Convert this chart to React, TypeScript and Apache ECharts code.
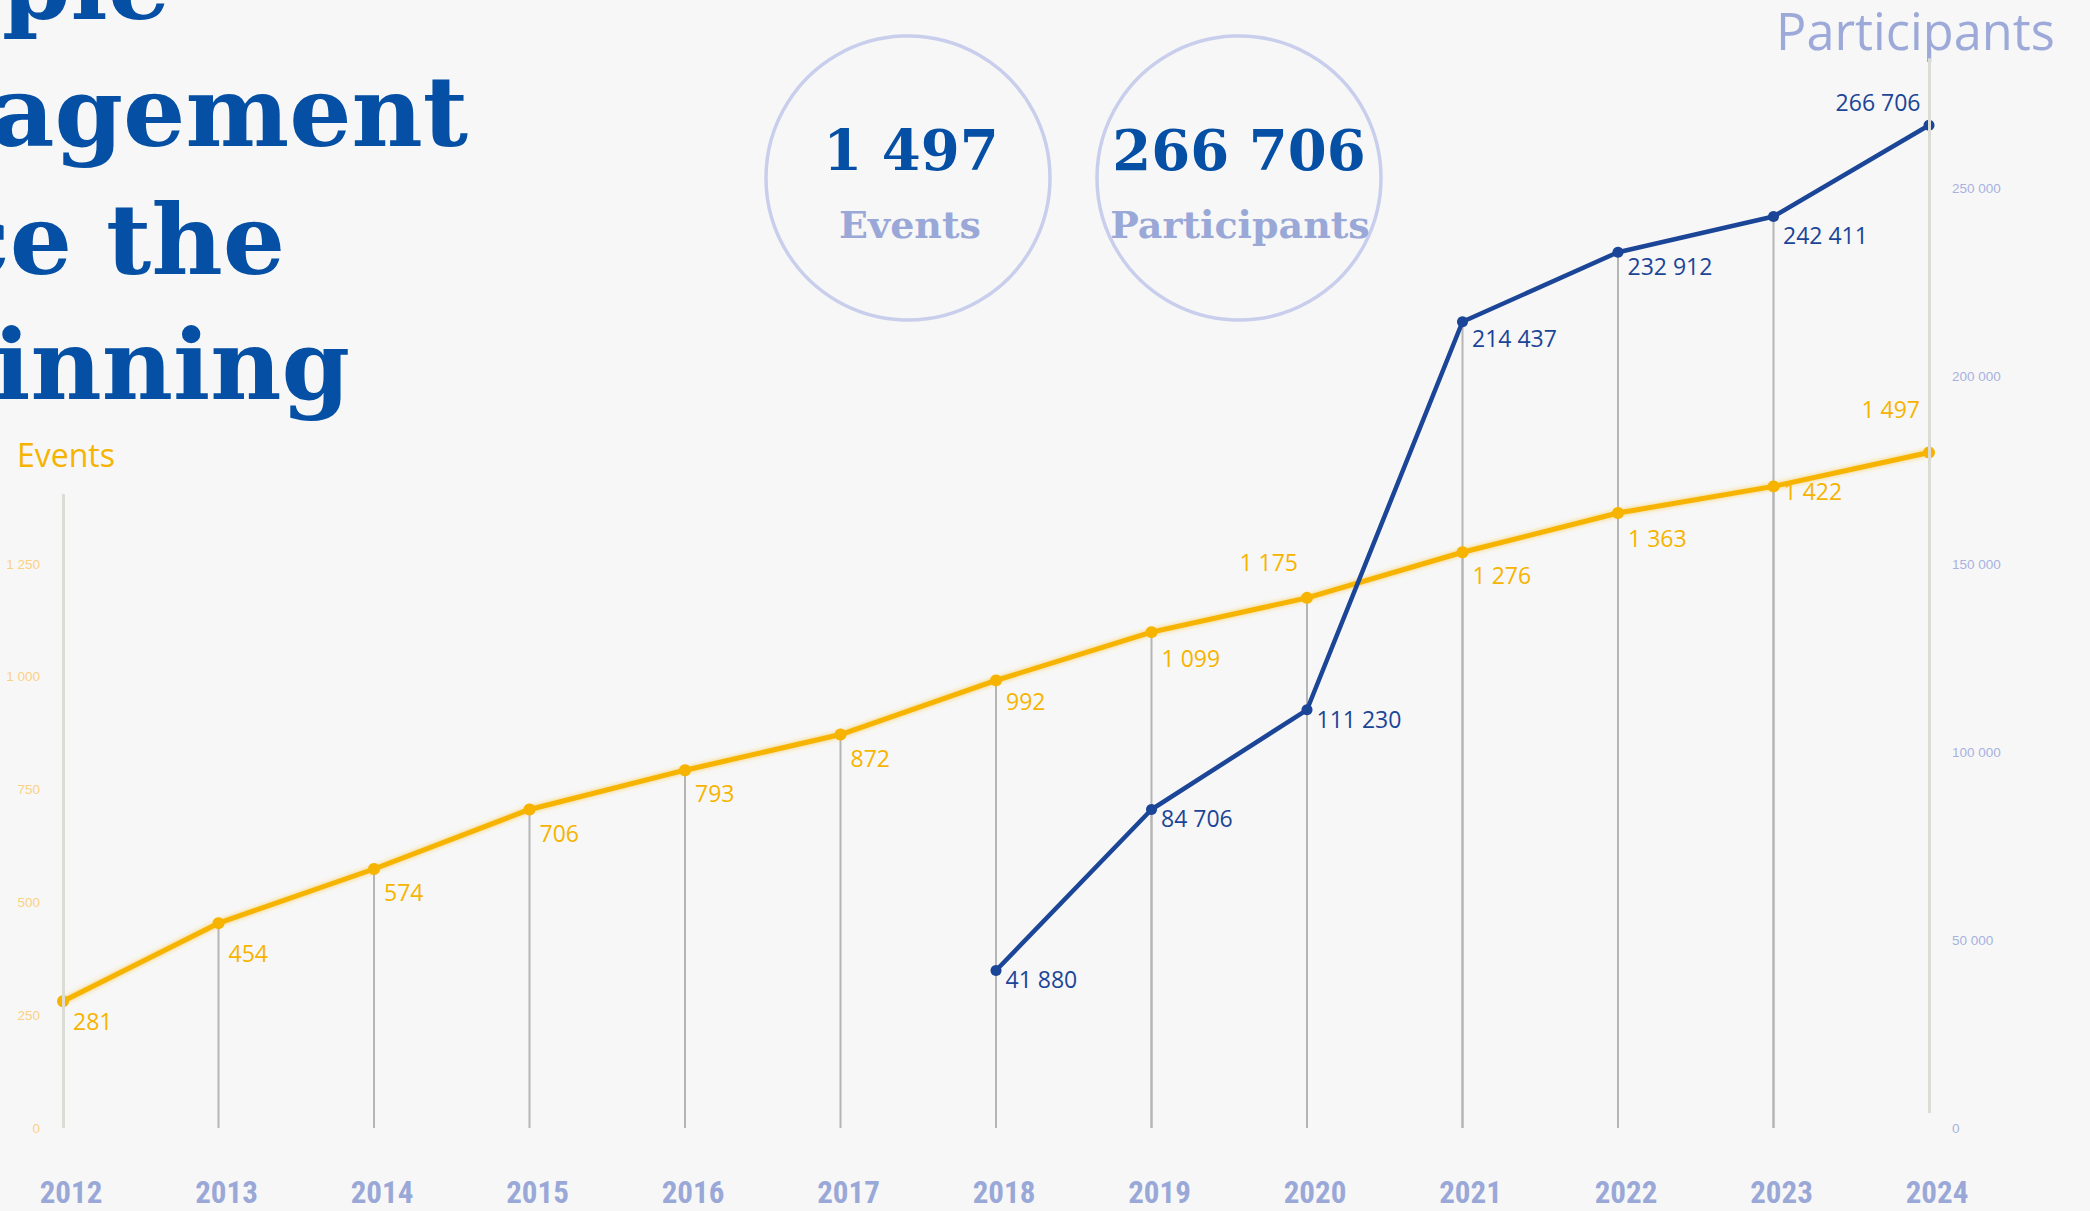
import React, { useEffect, useRef } from "react";
import * as echarts from "echarts";

// ---- data ----
const years = ["2012", "2013", "2014", "2015", "2016", "2017", "2018", "2019", "2020", "2021", "2022", "2023", "2024"];
const events = [281, 454, 574, 706, 793, 872, 992, 1099, 1175, 1276, 1363, 1422, 1497];
const participants: (number | null)[] = [null, null, null, null, null, null, 41880, 84706, 111230, 214437, 232912, 242411, 266706];
const eventTickMaxLabel = 1250;
const participantTickMaxLabel = 250000;
const totalEvents = 1497;
const totalParticipants = 266706;
const headlineLines = ["People", "engagement", "since the", "beginning"];

// ---- label placement (style only) ----
const eventLabelDy = [20, 30, 23, 24, 23, 23, 21, 26, -36, 23, 25, 5, -44];
const eventLabelAbove = [false, false, false, false, false, false, false, false, true, false, false, false, true];
const partLabelDy = [0, 0, 0, 0, 0, 0, 8, 8, 9, 16, 14, 18, -23];
const partLabelAbove = [false, false, false, false, false, false, false, false, false, false, false, false, true];

const fmt = (v: number) => String(v).replace(/\B(?=(\d{3})+(?!\d))/g, " ");

const ORANGE = "#f6b400";
const BLUE = "#1b4597";
const NAVY = "#0550a5";
const LILAC = "#9aa8d8";

function buildOption(): any {
  const headlineRight = [170, 468, 285, 350];
  const headlineBaseline = [18, 145, 273, 398];
  const hs = 98;
  const headline = headlineLines.map((t, i) => ({
    type: "text",
    x: headlineRight[i],
    y: headlineBaseline[i] - 0.346 * hs,
    style: {
      text: t,
      fill: NAVY,
      fontFamily: "DejaVu Serif",
      fontWeight: "bold",
      fontSize: hs,
      align: "right",
      textAlign: "right",
      verticalAlign: "middle",
      textVerticalAlign: "middle",
    },
  }));

  const circleStyle = { fill: "none", stroke: "#c8ceec", lineWidth: 3.5 };
  const bigText = (text: string, x: number, y: number, size: number, color: string) => ({
    type: "text",
    x,
    y,
    style: {
      text,
      fill: color,
      fontFamily: "DejaVu Serif",
      fontWeight: "bold",
      fontSize: size,
      align: "center",
      textAlign: "center",
      verticalAlign: "middle",
      textVerticalAlign: "middle",
    },
  });

  const graphic = [
    ...headline,
    { type: "circle", shape: { cx: 908, cy: 178, r: 142 }, style: circleStyle },
    { type: "circle", shape: { cx: 1239, cy: 178, r: 142 }, style: circleStyle },
    bigText(fmt(totalEvents), 911, 150, 56, NAVY),
    bigText(fmt(totalParticipants), 1239, 150, 56, NAVY),
    bigText("Events", 910, 224, 38, LILAC),
    bigText("Participants", 1240, 224, 38, LILAC),
    {
      type: "text",
      x: 17,
      y: 454,
      style: {
        text: "Events",
        fill: ORANGE,
        fontFamily: "Open Sans",
        fontSize: 32,
        align: "left",
        textAlign: "left",
        verticalAlign: "middle",
        textVerticalAlign: "middle",
      },
    },
    {
      type: "text",
      x: 1776,
      y: 30,
      style: {
        text: "Participants",
        fill: "#9daad9",
        fontFamily: "Open Sans",
        fontSize: 50.5,
        align: "left",
        textAlign: "left",
        verticalAlign: "middle",
        textVerticalAlign: "middle",
      },
    },
  ];

  const dropStyle = { color: "#b5b5b5" };
  const axisLineStyle = { color: "#dcdcd7", width: 3, type: "solid" };

  return {
    animation: false,
    backgroundColor: "#f7f7f7",
    grid: { left: 63, right: 161, top: 0, bottom: 83, containLabel: false },
    xAxis: {
      type: "category",
      data: years,
      boundaryGap: false,
      axisLine: { show: false },
      axisTick: { show: false },
      splitLine: { show: false },
      axisLabel: {
        color: LILAC,
        fontSize: 31,
        lineHeight: 26,
        fontWeight: "bold",
        fontFamily: "'Liberation Sans Narrow', 'Roboto Condensed', Roboto, sans-serif",
        margin: 51,
        padding: [0, 0, 0, 16],
      },
    },
    yAxis: [
      {
        type: "value",
        position: "left",
        min: 0,
        max: 2500,
        interval: 250,
        axisLine: { show: false },
        axisTick: { show: false },
        splitLine: { show: false },
        axisLabel: {
          formatter: (v: number) => (v <= eventTickMaxLabel ? fmt(v) : ""),
          color: "#fbd184",
          fontSize: 13.5,
          fontFamily: "'Liberation Sans', sans-serif",
          margin: 23,
        },
      },
      {
        type: "value",
        position: "right",
        min: 0,
        max: 300000,
        interval: 50000,
        axisLine: { show: false },
        axisTick: { show: false },
        splitLine: { show: false },
        axisLabel: {
          formatter: (v: number) => (v <= participantTickMaxLabel ? fmt(v) : ""),
          color: "#a7b2e0",
          fontSize: 13.5,
          fontFamily: "'Liberation Sans', sans-serif",
          margin: 23,
        },
      },
    ],
    graphic,
    series: [
      {
        name: "events-drop",
        type: "bar",
        yAxisIndex: 0,
        data: events.map((v, i) => (i === 0 || i === events.length - 1 ? null : v)),
        barWidth: 2,
        barGap: "-100%",
        itemStyle: dropStyle,
        silent: true,
        z: 1,
        markLine: {
          silent: true,
          symbol: "none",
          label: { show: false },
          lineStyle: axisLineStyle,
          data: [[{ coord: [years[0], 0] }, { coord: [years[0], 1405] }]],
        },
      },
      {
        name: "participants-drop",
        type: "bar",
        yAxisIndex: 1,
        data: participants.map((v, i) => (i === participants.length - 1 ? null : v)),
        barWidth: 2,
        barGap: "-100%",
        itemStyle: dropStyle,
        silent: true,
        z: 1,
        markLine: {
          silent: true,
          symbol: "none",
          label: { show: false },
          lineStyle: axisLineStyle,
          data: [[{ coord: [years[years.length - 1], 4000] }, { coord: [years[years.length - 1], 284500] }]],
        },
      },
      {
        name: "Events",
        type: "line",
        yAxisIndex: 0,
        z: 3,
        data: events.map((v, i) => ({
          value: v,
          label: {
            position: eventLabelAbove[i] ? "left" : "right",
            distance: eventLabelAbove[i] ? 3 : 4,
            offset: [0, eventLabelDy[i]],
          },
        })),
        symbol: "circle",
        symbolSize: 12,
        itemStyle: { color: ORANGE },
        lineStyle: { color: ORANGE, width: 5, shadowBlur: 5, shadowColor: "rgba(246,180,0,0.6)" },
        label: {
          show: true,
          formatter: (p: any) => fmt(p.value),
          color: ORANGE,
          fontSize: 23,
          fontFamily: "'Open Sans', sans-serif",
        },
      },
      {
        name: "Participants",
        type: "line",
        yAxisIndex: 1,
        z: 4,
        data: participants.map((v, i) =>
          v == null
            ? null
            : {
                value: v,
                label: {
                  position: partLabelAbove[i] ? "left" : "right",
                  distance: partLabelAbove[i] ? 3 : 4,
                  offset: [0, partLabelDy[i]],
                },
              }
        ),
        symbol: "circle",
        symbolSize: 11,
        itemStyle: { color: BLUE },
        lineStyle: { color: BLUE, width: 4.5 },
        label: {
          show: true,
          formatter: (p: any) => fmt(p.value),
          color: BLUE,
          fontSize: 23,
          fontFamily: "'Open Sans', sans-serif",
        },
      },
    ],
  };
}

export default function App() {
  const ref = useRef<HTMLDivElement>(null);
  useEffect(() => {
    document.body.style.margin = "0";
    const chart = echarts.init(ref.current!, null, { renderer: "svg" });
    chart.setOption(buildOption());
    return () => chart.dispose();
  }, []);
  return (
    <div
      ref={ref}
      style={{ position: "absolute", left: 0, top: 0, width: 2090, height: 1211, background: "#f7f7f7" }}
    />
  );
}
